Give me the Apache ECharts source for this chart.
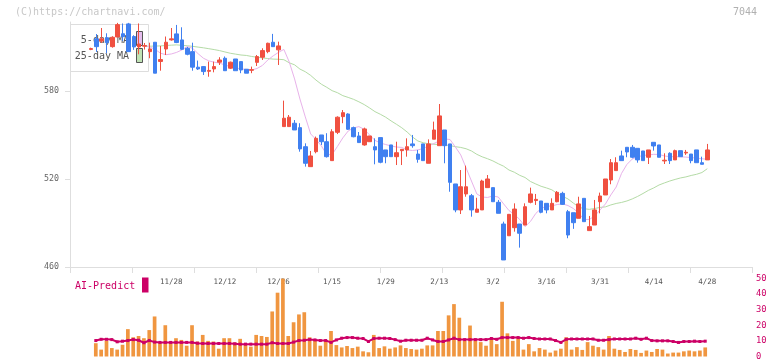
<!DOCTYPE html>
<html><head><meta charset="utf-8">
<script src="https://cdn.jsdelivr.net/npm/echarts@6/dist/echarts.min.js"></script>
<style>html,body{margin:0;padding:0;background:#fff}#c{width:772px;height:361px}</style>
</head><body><div id="c"></div>
<script>
const dates = ['11/6','11/7','11/10','11/11','11/12','11/13','11/14','11/17','11/18','11/19','11/20','11/21','11/25','11/26','11/27','11/28',
'12/1','12/2','12/3','12/4','12/5','12/8','12/9','12/10','12/11','12/12','12/15','12/16','12/17','12/18','12/19','12/22','12/23','12/24','12/25','12/26','12/29','12/30',
'1/5','1/6','1/7','1/8','1/9','1/13','1/14','1/15','1/16','1/19','1/20','1/21','1/22','1/23','1/26','1/27','1/28','1/29','1/30',
'2/2','2/3','2/4','2/5','2/6','2/9','2/10','2/12','2/13','2/16','2/17','2/18','2/19','2/20','2/24','2/25','2/26','2/27',
'3/2','3/3','3/4','3/5','3/6','3/9','3/10','3/11','3/12','3/13','3/16','3/17','3/18','3/19','3/23','3/24','3/25','3/26','3/27','3/30','3/31',
'4/1','4/2','4/3','4/6','4/7','4/8','4/9','4/10','4/13','4/14','4/15','4/16','4/17','4/20','4/21','4/22','4/23','4/24','4/27','4/28'];

const labelIndex = [15,25,35,45,55,65,75,85,95,105,115];
const priceTicks = [460,520,580];

const open = [608.3,615.5,614.0,616.3,610.2,616.8,619.0,625.7,617.1,610.0, 610.5,606.8,613.2,600.1,608.6,614.8,618.9,614.8,609.1,606.8,
596.2,596.6,593.4,595.0,599.6,602.3,595.5,601.8,600.0,594.8, 594.1,599.5,603.0,606.8,613.2,608.0,555.7,555.7,558.0,555.0,
542.0,528.4,538.6,550.0,545.4,532.5,551.8,562.5,564.3,555.0, 549.3,543.2,545.4,542.0,548.2,539.8,543.2,535.2,539.3,539.8,
543.9,537.0,543.9,530.7,547.1,542.7,553.4,543.9,516.6,498.9, 509.8,508.6,497.3,498.9,514.1,514.1,504.1,489.3,481.3,486.8,
489.3,488.6,504.1,505.3,505.0,503.4,498.9,504.5,510.2,497.7, 497.0,493.2,506.8,484.8,488.6,504.5,509.1,519.3,525.7,535.7,
541.6,541.6,540.9,539.1,534.8,545.0,543.2,532.3,537.5,533.0, 539.3,537.7,537.0,539.8,531.1,533.0];
const close = [608.9,610.2,615.5,612.9,616.6,625.2,617.0,606.8,610.0,612.0, 611.0,608.6,592.1,601.4,613.2,615.5,613.0,608.4,605.0,596.2,
595.0,593.2,594.0,596.6,601.1,593.8,599.6,593.8,594.3,592.1, 594.5,603.4,607.5,612.5,610.2,610.7,561.4,562.1,553.4,540.5,
530.7,535.7,547.7,545.4,535.2,552.2,562.1,565.2,553.9,548.8, 544.8,554.1,549.3,539.8,531.4,535.2,535.2,537.9,540.2,542.0,
542.7,533.4,532.5,543.9,553.4,563.0,542.7,517.7,498.9,514.7, 514.7,498.9,499.5,518.6,520.0,504.5,496.6,464.8,495.9,499.5,
483.0,501.1,509.8,506.1,497.3,498.9,503.4,510.9,502.7,481.8, 490.2,503.0,490.9,487.5,498.9,508.4,520.0,531.1,531.1,532.5,
538.4,534.8,533.0,532.5,539.8,542.5,534.8,532.8,532.5,539.3, 535.2,538.2,532.5,531.1,530.0,539.8];
const low = [607.8,606.6,612.7,605.7,609.5,616.8,614.0,606.8,608.0,605.0, 608.2,602.3,592.1,593.8,604.5,614.3,612.6,608.0,604.3,593.8,
594.3,590.9,589.7,592.7,597.7,593.8,595.0,593.8,592.1,592.1, 592.1,597.0,601.1,605.7,610.0,597.7,555.7,555.7,553.4,538.6,
528.4,528.4,537.5,543.2,534.6,532.5,550.6,558.0,553.4,548.4, 544.8,542.7,545.4,530.0,530.7,530.7,535.2,529.5,529.5,535.2,
541.3,531.1,532.5,530.7,547.1,542.7,530.7,511.3,497.3,496.1, 507.9,494.3,497.3,498.9,514.1,504.5,496.6,464.8,481.3,484.1,
473.2,488.6,503.4,502.3,496.6,496.6,498.9,504.1,502.3,479.6, 486.0,493.2,490.9,484.8,488.6,496.6,509.1,516.4,525.7,532.5,
534.8,534.1,531.1,532.5,530.2,539.3,534.8,530.2,530.2,533.0, 535.2,536.4,530.7,531.1,530.0,533.0];
const high = [609.5,618.8,622.9,619.3,617.3,626.4,626.0,626.4,618.0,626.0, 612.7,612.9,613.2,610.7,617.1,622.9,625.0,623.4,610.0,612.9,
600.7,597.0,600.0,600.0,603.0,603.5,600.0,601.8,600.0,594.8, 596.6,604.5,609.1,612.9,618.9,613.6,573.4,563.6,560.2,558.0,
544.3,539.1,548.9,550.0,551.2,553.9,562.7,567.0,564.8,555.7, 552.0,555.0,549.3,547.7,548.2,539.8,543.2,545.4,540.2,547.7,
550.0,539.8,543.9,547.0,559.1,571.1,553.4,543.9,516.6,526.1, 529.1,509.8,507.2,519.5,522.7,514.1,505.7,490.9,496.0,503.4,
489.3,503.4,514.1,509.8,505.0,503.4,506.8,511.8,511.3,498.9, 497.0,507.9,506.8,494.8,505.7,510.7,520.0,533.6,534.8,539.3,
541.6,543.2,540.9,539.1,539.8,545.0,543.2,537.5,538.2,540.0, 539.3,539.8,537.0,539.8,535.2,543.9];

const ma5 = [null,null,null,null,null,null,null,null,null,null,
611.0,610.0,608.3,605.7,604.7,605.2,606.3,608.0,610.3,609.0,
605.4,602.3,600.5,599.6,599.0,597.7,596.6,595.7,595.0,594.7,
594.3,595.3,597.4,601.1,603.9,606.3,608.3,599.8,588.2,574.5,
562.3,550.7,546.9,542.5,536.7,536.7,542.2,548.0,552.7,554.8,
555.7,553.8,550.0,546.3,544.5,543.5,542.5,541.8,541.5,539.8,
539.4,539.8,540.8,542.5,544.2,545.9,547.3,546.9,541.8,536.4,
527.5,518.6,509.8,507.7,507.4,508.4,507.7,503.0,498.5,495.8,
492.4,487.5,491.0,496.5,499.9,501.4,501.6,502.6,503.0,501.9,
499.9,496.8,492.4,492.4,494.8,498.9,503.0,509.1,514.5,523.8,
529.9,533.6,535.1,536.0,536.4,536.8,536.7,535.7,535.2,535.2,
535.1,534.9,534.6,534.2,533.8,533.4];
const ma25 = [null,null,null,null,null,null,null,null,null,null,
610.3,610.5,610.6,610.7,611.0,611.2,611.4,611.1,610.8,610.4,
609.9,609.4,608.8,608.2,607.5,606.6,605.7,605.1,604.5,604.2,
603.5,603.0,602.5,602.1,601.7,601.6,601.3,599.2,597.8,594.9,
593.1,590.6,587.4,584.6,582.5,580.2,578.8,576.8,575.6,574.3,
572.6,570.7,568.4,565.9,564.1,562.1,559.6,557.3,554.9,552.0,
548.6,545.9,544.7,544.0,543.7,543.4,543.2,542.8,542.0,541.5,
540.6,539.1,536.8,535.1,533.8,532.3,530.4,528.7,526.1,524.6,
522.5,521.0,518.3,516.6,515.0,513.9,512.6,510.1,508.2,506.4,
503.6,500.9,499.7,499.3,499.9,500.6,501.0,502.3,503.3,504.0,
505.0,506.4,508.1,510.1,512.2,513.9,515.9,517.3,518.6,519.7,
520.7,521.4,522.4,523.2,524.4,527.0];

const volume = [null, 8.5,4.4,10.0,5.4,4.4,7.5,17.5,12.3,13.1,11.7,
16.9,25.6,8.5,20.0,8.5,11.7,10.6,6.9,20.0,9.6,
13.8,10.0,9.6,5.0,11.7,11.7,9.0,11.3,7.9,6.3,
13.8,13.1,12.5,28.8,40.8,49.8,13.1,21.9,26.9,28.3,
12.3,10.6,6.9,9.6,16.3,7.3,5.8,6.7,5.4,6.3,
3.3,2.7,13.8,5.4,6.5,5.0,5.8,7.1,5.4,4.8,
4.4,5.0,7.1,7.1,16.3,16.3,26.3,33.5,24.8,10.0,
19.8,10.0,9.2,6.9,10.6,7.9,35.0,14.8,10.0,11.7,
4.4,7.9,3.3,5.4,4.4,2.5,3.8,5.0,12.3,4.4,
6.0,4.2,9.2,6.9,6.0,4.4,13.1,5.0,4.2,2.9,
4.8,4.2,2.3,3.8,2.9,4.8,4.4,1.9,2.5,2.5,
3.3,3.8,3.3,3.8,5.8];
const aiPredict = [null, 10.2,11.0,11.0,10.8,9.4,9.8,10.2,10.8,10.4,8.8,
10.2,9.2,9.0,9.0,9.0,9.0,9.0,9.0,9.0,8.5,
8.3,8.3,8.3,8.3,8.3,8.3,8.1,7.9,7.9,7.9,
7.9,7.9,7.9,8.8,8.3,8.3,8.3,9.2,10.2,10.4,
10.8,10.6,10.2,10.2,9.0,10.6,11.7,12.1,12.1,11.7,
11.5,9.6,11.5,11.7,11.7,11.5,10.8,9.8,10.4,10.4,
10.4,10.4,11.7,10.6,9.6,9.6,10.6,11.7,10.8,10.8,
10.8,10.8,10.8,10.8,11.5,11.0,12.1,12.1,12.1,12.1,
11.7,12.1,11.5,11.2,11.2,11.2,10.2,9.0,11.0,11.2,
11.2,11.2,11.2,11.2,10.4,10.4,10.8,11.2,11.2,11.2,
11.2,11.7,11.0,11.7,10.2,10.0,10.0,10.0,9.6,9.0,
9.6,9.6,9.8,9.6,9.8];

const MONO = '"DejaVu Sans Mono", monospace';
const candleData = dates.map((d, i) => [i, open[i], close[i], low[i], high[i]]);
const pairs = arr => arr.map((v, i) => [i, v]).filter(p => p[1] != null);

const chart = echarts.init(document.getElementById('c'), null, {renderer: 'canvas'});
chart.setOption({
  animation: false,
  backgroundColor: '#fff',
  grid: [
    {left: 70, right: 20, top: 22, height: 245},
    {left: 70, right: 20, top: 278.3, height: 80}
  ],
  xAxis: [
    {type: 'value', gridIndex: 0, min: -3.9, max: 123.34,
     axisLine: {show: false, onZero: false}, axisTick: {show: false}, splitLine: {show: false},
     axisLabel: {customValues: labelIndex, formatter: v => dates[v], color: '#555',
                 fontFamily: MONO, fontSize: 7.5, margin: 11}},
    {type: 'value', gridIndex: 1, min: -3.826, max: 123.75, show: false},
    {type: 'value', gridIndex: 0, min: 0, max: 11, interval: 1, position: 'bottom',
     axisLine: {show: true, onZero: false, lineStyle: {color: '#dedede'}},
     axisTick: {show: true, length: 6, lineStyle: {color: '#dedede'}},
     axisLabel: {show: false}, splitLine: {show: false}}
  ],
  yAxis: [
    {type: 'value', gridIndex: 0, min: 460, max: 627,
     axisLine: {show: true, onZero: false, lineStyle: {color: '#dedede'}},
     axisTick: {show: true, customValues: priceTicks, length: 5, lineStyle: {color: '#dedede'}},
     axisLabel: {customValues: priceTicks, color: '#666', fontFamily: MONO, fontSize: 8.3, margin: 11},
     splitLine: {show: false}},
    {type: 'value', gridIndex: 1, position: 'right', min: 0, max: 50, interval: 10,
     axisLine: {show: false, onZero: false}, axisTick: {show: false}, splitLine: {show: false},
     axisLabel: {color: '#cc0066', fontFamily: MONO, fontSize: 8.8, margin: 4}}
  ],
  series: [
    {type: 'line', name: '25-day MA', xAxisIndex: 0, yAxisIndex: 0, data: pairs(ma25),
     symbol: 'none', lineStyle: {color: '#b4dba6', width: 1}, z: 1},
    {type: 'line', name: '5-day MA', xAxisIndex: 0, yAxisIndex: 0, data: pairs(ma5),
     symbol: 'none', lineStyle: {color: '#e8b2ea', width: 1}, z: 1},
    {type: 'candlestick', xAxisIndex: 0, yAxisIndex: 0, data: candleData,
     encode: {x: 0, y: [1, 2, 3, 4]}, barWidth: 4,
     itemStyle: {color: '#f05040', color0: '#4080f0', borderColor: '#f05040', borderColor0: '#4080f0', borderWidth: 1},
     z: 3},
    {type: 'bar', xAxisIndex: 1, yAxisIndex: 1, data: pairs(volume), barWidth: 3.7,
     itemStyle: {color: '#f09640'}, z: 2},
    {type: 'line', xAxisIndex: 1, yAxisIndex: 1, data: pairs(aiPredict),
     symbol: 'rect', symbolSize: 3, showAllSymbol: true,
     itemStyle: {color: '#cc0066'}, lineStyle: {color: '#cc0066', width: 2}, z: 3}
  ],
  graphic: [
    {type: 'text', x: 15, y: 12, z: 0, style: {text: '(C)https://chartnavi.com/', fill: '#c8c8c8', font: '10px ' + MONO, align: 'left', verticalAlign: 'middle'}},
    {type: 'text', x: 757, y: 12, z: 0, style: {text: '7044', fill: '#b0b0b0', font: '10px ' + MONO, align: 'right', verticalAlign: 'middle'}},
    {type: 'rect', z: 0, shape: {x: 70.5, y: 24.5, width: 78, height: 47}, style: {fill: '#fff', stroke: '#dddddd', lineWidth: 1}},
    {type: 'text', x: 129, y: 40, z: 0, style: {text: '5-day MA', fill: '#555', font: '10px ' + MONO, align: 'right', verticalAlign: 'middle'}},
    {type: 'text', x: 129, y: 56.5, z: 0, style: {text: '25-day MA', fill: '#555', font: '10px ' + MONO, align: 'right', verticalAlign: 'middle'}},
    {type: 'rect', z: 0, shape: {x: 136.5, y: 31.5, width: 6, height: 14}, style: {fill: '#e6bdee', stroke: '#555', lineWidth: 1}},
    {type: 'rect', z: 0, shape: {x: 136.5, y: 48.5, width: 6, height: 14}, style: {fill: '#bfe2b4', stroke: '#555', lineWidth: 1}},
    {type: 'text', x: 75, y: 286, z: 0, style: {text: 'AI-Predict', fill: '#cc0066', font: '10px ' + MONO, align: 'left', verticalAlign: 'middle'}},
    {type: 'rect', z: 0, shape: {x: 142, y: 277.5, width: 6.5, height: 15}, style: {fill: '#cc0066'}}
  ]
});
</script>
</body></html>
